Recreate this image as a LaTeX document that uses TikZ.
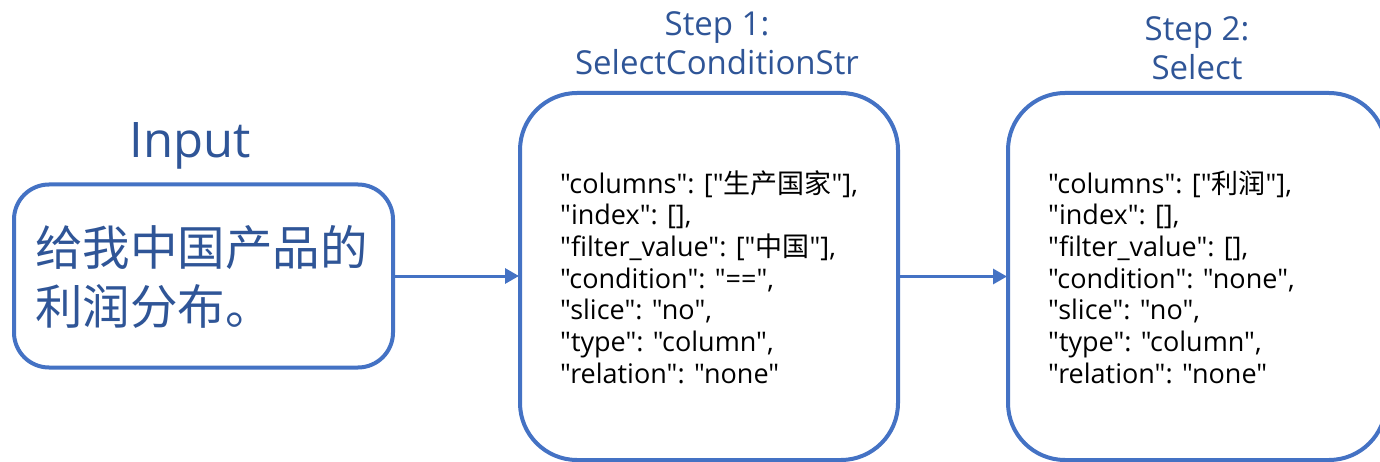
\documentclass[tikz,border=0pt]{standalone}
\usepackage{fontspec}
\setmainfont{Open Sans}[Ligatures=TeXOff]
\newfontfamily\cjk{Noto Sans CJK SC}
\usetikzlibrary{arrows.meta}
\definecolor{boxblue}{HTML}{4472C4}
\definecolor{titleblue}{HTML}{2F5597}
\tikzset{
  panel/.style={draw=boxblue, line width=4pt, fill=white, rectangle, inner sep=0pt},
  titletext/.style={text=titleblue, font=\fontsize{33}{39}\selectfont, align=center, inner sep=0pt},
  bodytext/.style={text=black, font=\fontsize{27}{31.7}\selectfont, align=left, anchor=west, inner sep=0pt},
  flow/.style={draw=boxblue, line width=3pt, -{Triangle[length=14pt,width=15pt]}, shorten >=-1pt}
}
\begin{document}
\begin{tikzpicture}[x=1pt,y=-1pt]
  \useasboundingbox (0,0) rectangle (1380,462);
  \clip (0,0) rectangle (1380,462);
  \fill[white] (0,0) rectangle (1380,462);

  % input panel
  \node[panel, rounded corners=35pt, minimum width=379pt, minimum height=183pt] (in) at (203.5,276) {};
  \node[text=titleblue, font=\fontsize{49}{49}\selectfont, anchor=base, inner sep=0pt] (inlabel) at (190,158) {Input};
  \node[text=titleblue, font=\cjk\fontsize{47.5}{59}\selectfont, align=left, anchor=west, inner sep=0pt] (query) at (35,277)
    {给我中国产品的\\利润分布。};

  % step 1 panel (title anchored at the baseline of its last line)
  \node[panel, rounded corners=57pt, minimum width=378pt, minimum height=367pt] (s1) at (709,276.5) {};
  \node[titletext, anchor=base] (s1title) at (717,75) {Step 1:\\SelectConditionStr};
  \node[bodytext] (s1body) at (560,277) {%
    "columns": ["{\cjk 生产国家}"],\\
    "index": [],\\
    "filter\_value": ["{\cjk 中国}"],\\
    "condition": "==",\\
    "slice": "no",\\
    "type": "column",\\
    "relation": "none"};

  % step 2 panel
  \node[panel, rounded corners=57pt, minimum width=378pt, minimum height=367pt] (s2) at (1197,276.5) {};
  \node[titletext, anchor=base] (s2title) at (1197,80) {Step 2:\\Select};
  \node[bodytext] (s2body) at (1048,277) {%
    "columns": ["{\cjk 利润}"],\\
    "index": [],\\
    "filter\_value": [],\\
    "condition": "none",\\
    "slice": "no",\\
    "type": "column",\\
    "relation": "none"};

  % connectors
  \draw[flow] (in.east) -- (in.east -| s1.west);
  \draw[flow] (s1.east) -- (s1.east -| s2.west);
\end{tikzpicture}
\end{document}
